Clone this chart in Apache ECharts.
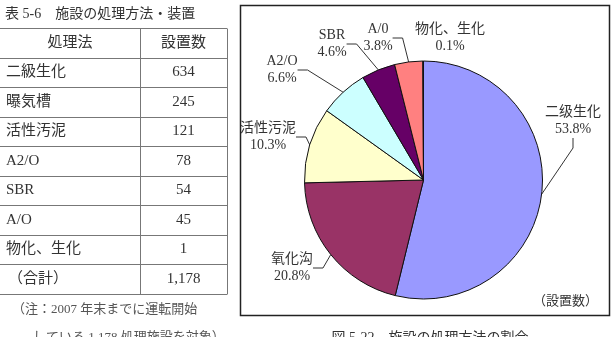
<!DOCTYPE html>
<html>
<head>
<meta charset="utf-8">
<script src="https://cdn.jsdelivr.net/npm/echarts@6/dist/echarts.min.js"></script>
<style>
  html, body { margin: 0; padding: 0; background: #fff; }
  #chart { width: 614px; height: 337px; }
</style>
</head>
<body>
<div id="chart"></div>
<script>
// table data
const tableTitle = '表 5-6　施設の処理方法・装置'
const tableHeader = ['処理法', '設置数']
const tableNames = ['二級生化', '曝気槽', '活性汚泥', 'A2/O', 'SBR', 'A/O', '物化、生化', '（合計）']
const tableCounts = ['634', '245', '121', '78', '54', '45', '1', '1,178']
const noteLines = ['（注：2007 年末までに運転開始', 'している 1,178 処理施設を対象）']

// pie data
const pieNames = ['二级生化', '氧化沟', '活性污泥', 'A2/O', 'SBR', 'A/0', '物化、生化']
const pieValues = [634, 245, 121, 78, 54, 45, 1]
const pieColors = ['#9999FF', '#993366', '#FFFFCC', '#CCFFFF', '#660066', '#FF8080', '#3366CC']
const unitLabel = '（設置数）'
const caption = '図 5-22　施設の処理方法の割合'

// where each pie label sits (centre of the two-line block)
const labelPos = [[573, 121], [292, 268], [268, 137], [282, 70], [332, 44], [378, 38], [450, 38]]

const FONT = '"Liberation Serif", "Noto Sans CJK JP", serif'
const TEXT = '#333'

const chart = echarts.init(document.getElementById('chart'))

const graphic = []
const tTop = 28
const rowH = 29.5
const colX = 140
const tRight = 227
const nRows = tableNames.length + 1

graphic.push({
  type: 'text', left: 5, top: 7,
  style: { text: tableTitle, font: '14px ' + FONT, fill: TEXT }
})

// horizontal rules
for (let i = 0; i <= nRows; i++) {
  const y = Math.round(tTop + i * rowH) + 0.5
  graphic.push({
    type: 'line',
    shape: { x1: 0, y1: y, x2: tRight, y2: y },
    style: { stroke: '#777', lineWidth: 1 }
  })
}
// vertical rules
;[colX, tRight].forEach(x => {
  graphic.push({
    type: 'line',
    shape: { x1: x + 0.5, y1: tTop + 0.5, x2: x + 0.5, y2: Math.round(tTop + nRows * rowH) + 0.5 },
    style: { stroke: '#777', lineWidth: 1 }
  })
})

// header
graphic.push({
  type: 'text', x: colX / 2, y: tTop + rowH / 2,
  style: { text: tableHeader[0], font: '15px ' + FONT, fill: TEXT, align: 'center', verticalAlign: 'middle' }
})
graphic.push({
  type: 'text', x: (colX + tRight) / 2, y: tTop + rowH / 2,
  style: { text: tableHeader[1], font: '15px ' + FONT, fill: TEXT, align: 'center', verticalAlign: 'middle' }
})

tableNames.forEach((name, i) => {
  const cy = tTop + (i + 1.5) * rowH
  const isTotal = i === tableNames.length - 1
  graphic.push({
    type: 'text', x: isTotal ? 8 : 6, y: cy,
    style: { text: name, font: '15px ' + FONT, fill: TEXT, align: 'left', verticalAlign: 'middle' }
  })
  graphic.push({
    type: 'text', x: (colX + tRight) / 2, y: cy,
    style: { text: tableCounts[i], font: '15px ' + FONT, fill: TEXT, align: 'center', verticalAlign: 'middle' }
  })
})

graphic.push({
  type: 'text', x: 12, y: 310,
  style: { text: noteLines[0], font: '13px ' + FONT, fill: '#555', verticalAlign: 'middle' }
})
graphic.push({
  type: 'text', x: 33, y: 338,
  style: { text: noteLines[1], font: '13px ' + FONT, fill: '#555', verticalAlign: 'middle' }
})

// frame around the pie
graphic.push({
  type: 'rect',
  shape: { x: 240.5, y: 5.5, width: 369, height: 310 },
  style: { fill: 'none', stroke: '#222', lineWidth: 1.5 }
})
graphic.push({
  type: 'text', x: 598, y: 302,
  style: { text: unitLabel, font: '13px ' + FONT, fill: TEXT, align: 'right', verticalAlign: 'middle' }
})
graphic.push({
  type: 'text', x: 430, y: 338,
  style: { text: caption, font: '14px ' + FONT, fill: TEXT, align: 'center', verticalAlign: 'middle' }
})

chart.setOption({
  backgroundColor: '#fff',
  animation: false,
  graphic: graphic,
  series: [
    {
      type: 'pie',
      center: [423.5, 180],
      radius: 119,
      startAngle: 90,
      clockwise: true,
      percentPrecision: 1,
      avoidLabelOverlap: false,
      data: pieNames.map((n, i) => ({
        name: n,
        value: pieValues[i],
        itemStyle: { color: pieColors[i] },
        labelLine: { show: i !== pieNames.length - 1 }
      })),
      itemStyle: { borderColor: '#111', borderWidth: 1 },
      label: {
        show: true,
        position: 'outside',
        formatter: '{b}\n{d}%',
        fontFamily: FONT,
        fontSize: 14,
        lineHeight: 17,
        color: TEXT,
        align: 'center'
      },
      labelLine: {
        show: true,
        length: 10,
        length2: 10,
        lineStyle: { color: '#333', width: 1 }
      },
      labelLayout: params => {
        const p = labelPos[params.dataIndex]
        return {
          x: p[0],
          y: p[1],
          align: 'center',
          verticalAlign: 'middle'
        }
      },
      emphasis: { disabled: true }
    }
  ]
})
</script>
</body>
</html>
